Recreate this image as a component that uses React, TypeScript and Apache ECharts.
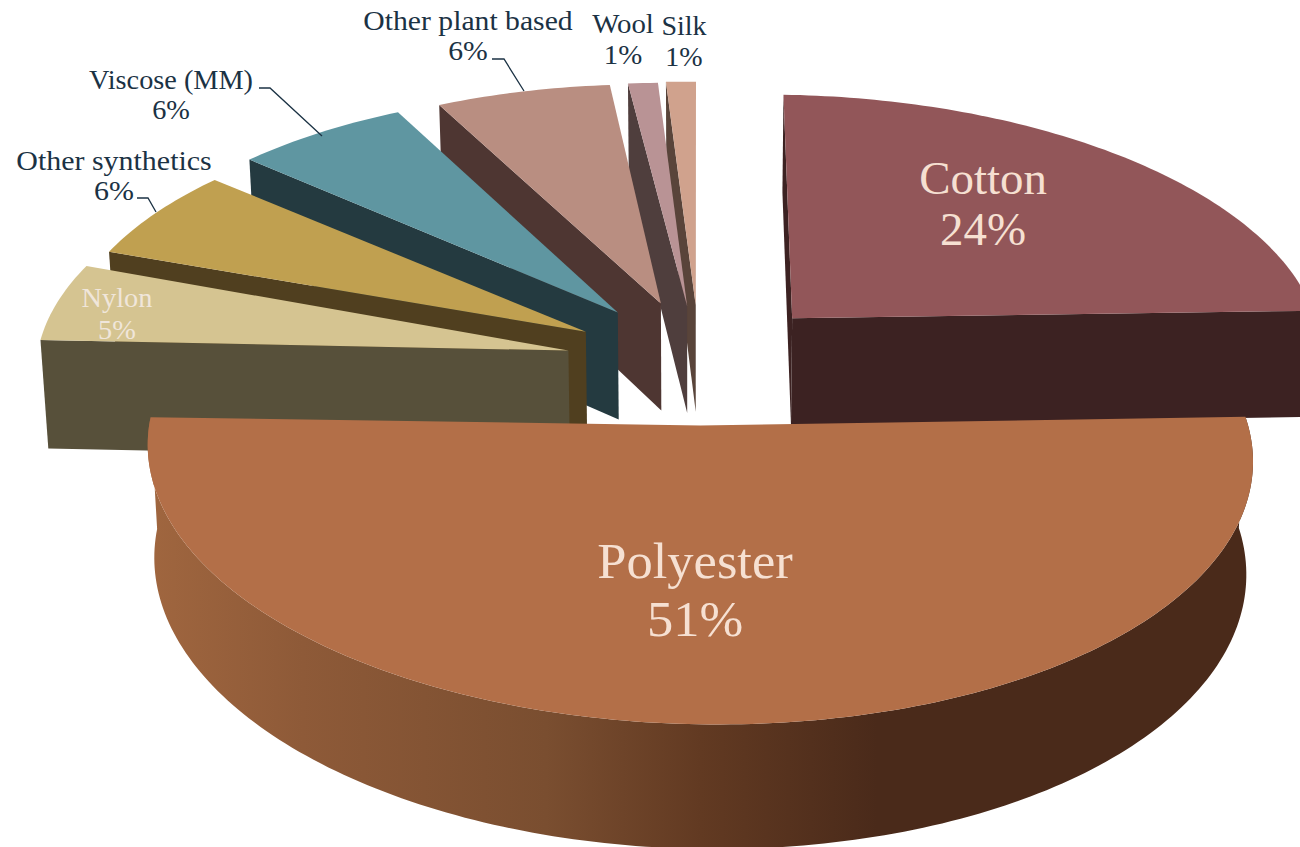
import React, { useEffect, useRef } from "react";
import * as echarts from "echarts";

// Share of global fibre production, by fibre, in percent.
const fibres = ["Cotton", "Polyester", "Nylon", "Other synthetics", "Viscose (MM)", "Other plant based", "Wool", "Silk"];
const shares = [24, 51, 5, 6, 6, 6, 1, 1];

// How far each slice is pulled away from the centre of the disc,
// with fine placement per slice: page shift in pixels, turn in degrees, radius factor.
const explosion = [0.27, 0.25, 0.24, 0.235, 0.23, 0.21, 0.2, 0.2];
const shiftX = [0, 1, 0, 0, 0, 0, 2, 4];
const shiftY = [6, 0, 2, 2, -2, -6, -4, -5];
const turn = [0, 0, 0.6, -0.1, 0.6, 0.6, 0, 0];
const radius = [1, 1, 0.99, 0.98, 0.985, 0.98, 1, 1];

const topColours = ["#925659", "#b36f48", "#d5c491", "#c0a050", "#5f96a1", "#b98e81", "#b99395", "#d0a28d"];
const wallColours = ["#3c2222", "#4a2a1a", "#57503a", "#503f1f", "#243a40", "#4e3632", "#4f3e3d", "#59443a"];

// Label placement: centre x, centre y, font size, horizontal stretch, line height, colour.
const INK = "#1b3244";
const PALE = "#f6e0d2";
const labelX = [983, 695, 117, 114, 171, 468, 623, 684];
const labelY = [204, 590, 314, 175, 95, 35, 39, 41];
const labelSize = [46, 50, 27, 28, 28, 28, 28, 28];
const labelStretch = [1.02, 1.05, 1.05, 1.07, 1.01, 1.06, 1.03, 1.0];
const labelLead = [51, 58, 32, 30, 30, 30, 31, 31];
const labelInk = [PALE, PALE, "#f0e6da", INK, INK, INK, INK, INK];

// Leader lines joining outside labels to their slices.
const leaders: Record<number, number[][]> = {
  3: [[137, 198], [148, 198], [156, 212]],
  4: [[259, 88], [270, 88], [322, 136]],
  5: [[492, 59], [504, 59], [524, 91]],
};

// Projection of the tilted disc onto the page.
const CX = 695;
const CY = 360;
const RX = 536;
const RY = 255;
const DEPTH = 109;
const PERSPECTIVE = 0.1;
const TAPER = 0.012;
const ROLL = 8;

type Pt = number[];

function project(X: number, Y: number, z: number, i: number): Pt {
  const s = 1 / (1 + PERSPECTIVE * Y);
  return [
    CX + shiftX[i] + RX * X * s * (1 - TAPER * z),
    CY + shiftY[i] - RY * Y * s + ROLL * X * s + DEPTH * z * s,
  ];
}

function signedArea(p: Pt[]): number {
  let a = 0;
  p.forEach((q, i) => {
    const r = p[(i + 1) % p.length];
    a += q[0] * r[1] - r[0] * q[1];
  });
  return a;
}

const rad = (d: number) => (d * Math.PI) / 180;
const total = shares.reduce((a, b) => a + b, 0);

const spans = shares.map((v, i) => {
  const before = shares.slice(0, i).reduce((a, b) => a + b, 0);
  return [(before / total) * 360, ((before + v) / total) * 360];
});

const mid = (i: number) => (spans[i][0] + spans[i][1]) / 2;

// Back slices first, so nearer ones paint over them.
const paintOrder = shares.map((_, i) => i).sort((a, b) => Math.cos(rad(mid(b))) - Math.cos(rad(mid(a))));

function sliceParts(i: number) {
  const a0 = spans[i][0] + turn[i];
  const a1 = spans[i][1] + turn[i];
  const b = rad(mid(i));
  const e = explosion[i];
  const r = radius[i];
  const ox = e * Math.sin(b);
  const oy = e * Math.cos(b);
  const n = Math.max(4, Math.ceil(a1 - a0));
  const angles = Array.from({ length: n + 1 }, (_, k) => rad(a0 + ((a1 - a0) * k) / n));
  const arcTop = angles.map((t) => project(ox + r * Math.sin(t), oy + r * Math.cos(t), 0, i));
  const arcBot = angles.map((t) => project(ox + r * Math.sin(t), oy + r * Math.cos(t), 1, i));
  const apexTop = project(ox, oy, 0, i);
  const apexBot = project(ox, oy, 1, i);
  const parts: any[] = [];

  const startWall = [arcTop[0], apexTop, apexBot, arcBot[0]];
  const endWall = [apexTop, arcTop[n], arcBot[n], apexBot];
  [startWall, endWall].forEach((wall) => {
    if (signedArea(wall) > 0) {
      parts.push({ type: "polygon", shape: { points: wall }, style: { fill: wallColours[i] } });
    }
  });

  if (Math.cos(b) < 0) {
    parts.push({
      type: "polygon",
      shape: { points: [...arcTop, ...arcBot.slice().reverse()] },
      style: {
        fill: new echarts.graphic.LinearGradient(0, 0, 1, 0, [
          { offset: 0, color: "#a0663f" },
          { offset: 0.14, color: "#8e5a38" },
          { offset: 0.36, color: "#7a4e30" },
          { offset: 0.5, color: "#623a22" },
          { offset: 0.66, color: "#4a2a1a" },
          { offset: 1, color: wallColours[i] },
        ]),
      },
    });
  }

  parts.push({
    type: "polygon",
    shape: { points: [apexTop, ...arcTop] },
    style: { fill: topColours[i] },
  });

  if (leaders[i]) {
    parts.push({
      type: "polyline",
      shape: { points: leaders[i] },
      style: { stroke: INK, lineWidth: 1.3, fill: "none" },
    });
  }

  parts.push({
    type: "text",
    x: labelX[i],
    y: labelY[i],
    scaleX: labelStretch[i],
    style: {
      text: `${fibres[i]}\n${shares[i]}%`,
      x: 0,
      y: 0,
      align: "center",
      verticalAlign: "middle",
      fontFamily: "Liberation Serif",
      fontSize: labelSize[i],
      lineHeight: labelLead[i],
      fill: labelInk[i],
    },
  });
  return parts;
}

export default function App() {
  const host = useRef<HTMLDivElement>(null);

  useEffect(() => {
    document.body.style.margin = "0";
    document.body.style.background = "#ffffff";
    const chart = echarts.init(host.current, undefined, { renderer: "svg" });
    chart.setOption({
      animation: false,
      backgroundColor: "#ffffff",
      series: [
        {
          type: "custom",
          coordinateSystem: "none",
          data: paintOrder.map((i) => ({ name: fibres[i], value: shares[i] })),
          renderItem: (params: any) => ({
            type: "group",
            children: sliceParts(paintOrder[params.dataIndex]),
          }),
        },
      ],
    });
    return () => chart.dispose();
  }, []);

  return <div ref={host} style={{ width: 1300, height: 847 }} />;
}
